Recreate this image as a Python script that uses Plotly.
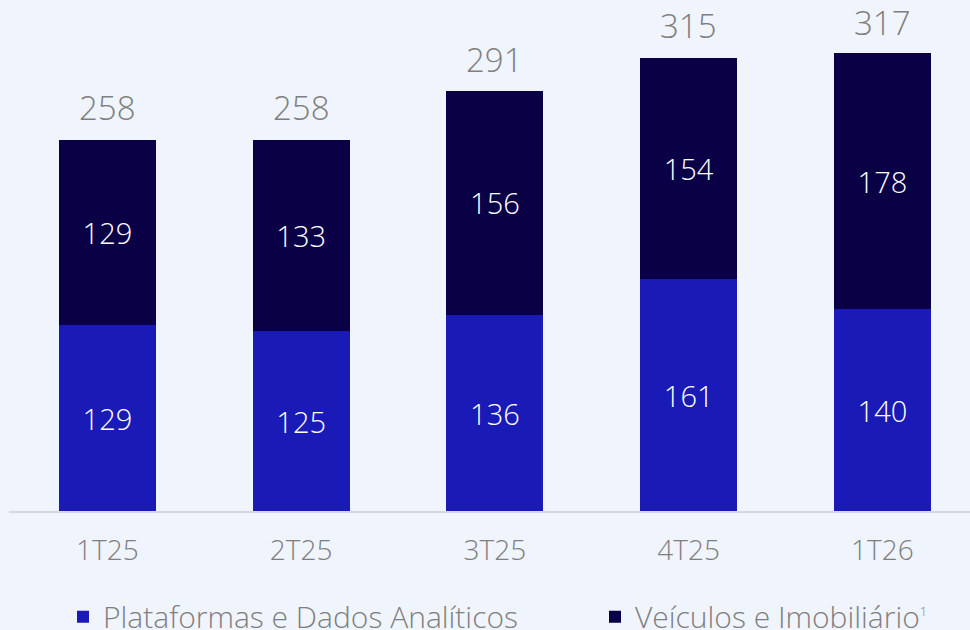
import plotly.graph_objects as go

categories = ["1T25", "2T25", "3T25", "4T25", "1T26"]
plataformas = [129, 125, 136, 161, 140]
veiculos = [129, 133, 156, 154, 178]
totals = [258, 258, 291, 315, 317]

BG = "#F0F4FD"
BLUE = "#1A1AB6"
NAVY = "#0A0046"
GRAY = "#7F7F7F"
FONT = "Open Sans"

fig = go.Figure()
fig.add_trace(go.Bar(
    x=categories, y=plataformas, name="Plataformas e Dados Analíticos",
    marker=dict(color=BLUE, line=dict(width=0)), width=0.5,
    text=[str(v) for v in plataformas], textposition="inside",
    insidetextanchor="middle", textangle=0,
    textfont=dict(color="white", size=29, family=FONT, weight=300),
    legend="legend",
))
fig.add_trace(go.Bar(
    x=categories, y=veiculos,
    name="Veículos e Imobiliário<sup><span style='font-size:13px'>1</span></sup>",
    marker=dict(color=NAVY, line=dict(width=0)), width=0.5,
    text=[str(v) for v in veiculos], textposition="inside",
    insidetextanchor="middle", textangle=0,
    textfont=dict(color="white", size=29, family=FONT, weight=300),
    legend="legend2",
))

for c, t in zip(categories, totals):
    fig.add_annotation(x=c, y=t, text=str(t), showarrow=False,
                       yanchor="bottom", yshift=8,
                       font=dict(color=GRAY, size=33, family=FONT, weight=300))

legend_font = dict(size=30, color=GRAY, family=FONT, weight=300)
fig.update_layout(
    barmode="stack",
    width=970, height=630,
    paper_bgcolor=BG, plot_bgcolor=BG,
    margin=dict(l=9, r=0, t=0, b=119, autoexpand=False),
    font=dict(family=FONT, color=GRAY),
    showlegend=True,
    legend=dict(orientation="h", x=(63 - 9) / 961, xanchor="left", y=-0.207, yanchor="middle",
                font=legend_font, bgcolor="rgba(0,0,0,0)"),
    legend2=dict(orientation="h", x=(595 - 9) / 961, xanchor="left", y=-0.207, yanchor="middle",
                 font=legend_font, bgcolor="rgba(0,0,0,0)"),
    bargap=0.5,
)
fig.update_xaxes(range=[-0.508, 4.452], showgrid=False, showline=True,
                 linecolor="#D6D9DF", linewidth=2, ticks="", ticklabelstandoff=13,
                 tickfont=dict(size=28, color=GRAY, family=FONT, weight=300))
fig.update_yaxes(range=[0, 355], visible=False, showgrid=False, zeroline=False)

fig.write_html(
    "out.html",
    config={"displayModeBar": False},
    post_script="document.body.style.margin='0';document.body.style.background='" + BG + "';",
)
